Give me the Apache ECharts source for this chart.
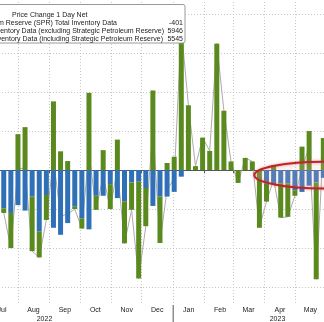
<!DOCTYPE html>
<html><head><meta charset="utf-8">
<script src="https://cdn.jsdelivr.net/npm/echarts@6/dist/echarts.min.js"></script>
<style>html,body{margin:0;padding:0;background:#fff;overflow:hidden}
#wrap{position:relative;width:324px;height:322px;overflow:hidden}
#c{position:absolute;left:-16px;top:-25px;width:354px;height:347px}</style>
</head><body><div id="wrap"><div id="c"></div></div>
<script>
// Weekly plot dates (as placed on the chart)
const weeks = ['2022-07-18','2022-07-25','2022-08-01','2022-08-08','2022-08-15','2022-08-22','2022-08-29',
  '2022-09-05','2022-09-12','2022-09-19','2022-09-26','2022-10-03','2022-10-10','2022-10-17','2022-10-24',
  '2022-10-31','2022-11-07','2022-11-14','2022-11-21','2022-11-28','2022-12-05','2022-12-12','2022-12-19',
  '2022-12-26','2023-01-02','2023-01-09','2023-01-16','2023-01-23','2023-01-30','2023-02-06','2023-02-13',
  '2023-02-20','2023-02-27','2023-03-06','2023-03-13','2023-03-20','2023-03-27','2023-04-03','2023-04-10',
  '2023-04-17','2023-04-24','2023-05-01','2023-05-08','2023-05-15','2023-05-22','2023-05-29'];
// SPR weekly change (thousand barrels) - blue
const sprChange = [-4900,-5500,-4500,-5200,-3400,-7900,-3200,
  -7400,-8300,-6800,-4700,-6200,-7600,-3300,-3300,
  -1800,-3600,-4000,-1600,-1500,-2300,-4600,-3400,
  -3400,-2800,-850,0,0,0,0,0,
  0,0,0,0,0,0,-1700,-1800,
  -1700,-1700,-2600,-2800,-2000,-1600,-1000];
// Commercial (ex-SPR) weekly change - green
const commercialChange = [-600,-4500,4600,5500,-7000,-3300,-3200,
  8800,2400,1150,-300,-1300,9900,-1800,2550,
  -3200,3900,-5400,-3500,-12400,-4900,10200,-5950,
  900,1700,19000,8300,500,4150,2450,16200,
  7600,1100,-1650,1550,1100,-7400,-2350,600,
  -4400,-4300,-700,3000,5000,-12400,4100];
// Total (including SPR) weekly change - grey line
const totalChange = [-5500,-10000,100,300,-10400,-11200,-6400,
  1400,-5900,-5650,-5000,-7500,2300,-5100,-750,
  -5000,300,-9400,-5100,-13900,-7200,5600,-9350,
  -2500,-1100,18150,8300,500,4150,2450,16200,
  7600,1100,-1650,1550,1100,-7400,-4050,-1200,
  -6100,-6000,-3300,200,3000,-14000,3100];
const monthNames = ['Jan','Feb','Mar','Apr','May','Jun','Jul','Aug','Sep','Oct','Nov','Dec'];
const yearLabels = ['2022','2023'];
const gridValues = [-15000,-10000,-5000,0,5000,10000,15000,20000];
const legendTitle = 'Price Change 1 Day Net';
const legendNames = ['Strategic Petroleum Reserve (SPR) Total Inventory Data',
  'Inventory Data (excluding Strategic Petroleum Reserve)',
  'Inventory Data (including Strategic Petroleum Reserve)'];
const legendValues = ['-401','5946','5545'];

const FONT = '"Liberation Sans", Arial, sans-serif';
const DAY = 86400000;
const GRID_COLOR = '#c6c6c6';
// chart container is offset from the page by (-16, -25) and is 354 x 347
const OX = 16, OY = 25, CW = 354, CH = 347;
const chart = echarts.init(document.getElementById('c'), null, { width: CW, height: CH });
chart.setOption({
  animation: false,
  backgroundColor: '#ffffff',
  textStyle: { fontFamily: FONT },
  grid: { left: 0, right: 0, top: 0, bottom: 17, containLabel: false, outerBoundsMode: 'none' },
  xAxis: {
    type: 'time',
    min: +new Date(2022, 6, 1),
    max: +new Date(2023, 5, 10),
    minInterval: 28 * DAY,
    maxInterval: 31 * DAY,
    axisLine: { show: true, lineStyle: { color: '#555', width: 1 } },
    axisTick: { show: true, length: 3, lineStyle: { color: '#555' } },
    splitLine: { show: true, lineStyle: { color: GRID_COLOR, type: [1, 2], width: 1 } },
    axisLabel: {
      formatter: v => monthNames[new Date(v).getMonth()],
      fontSize: 7, color: '#222', fontFamily: FONT, margin: 2,
      align: 'center', padding: [0, 0, 0, 31]
    }
  },
  yAxis: {
    type: 'value', min: -17300, max: 25000,
    axisLine: { show: false }, axisTick: { show: false },
    axisLabel: { show: false }, splitLine: { show: false }
  },
  series: [
    {
      type: 'line', name: 'Total Inventory (incl. SPR)',
      data: weeks.map((w, i) => [w, totalChange[i]]),
      symbol: 'none', lineStyle: { color: '#ababab', width: 1 }, z: 1,
      markLine: {
        silent: true, symbol: ['none', 'none'], label: { show: false }, z: 0,
        lineStyle: { color: GRID_COLOR, type: [1, 2], width: 1 },
        emphasis: { disabled: true },
        data: gridValues.map(v => ({ yAxis: v }))
      }
    },
    {
      type: 'bar', name: 'SPR', stack: 'inv',
      data: weeks.map((w, i) => [w, sprChange[i]]),
      barWidth: 5, itemStyle: { color: '#3070b6' }, z: 3
    },
    {
      type: 'bar', name: 'Commercial', stack: 'inv',
      data: weeks.map((w, i) => [w, commercialChange[i]]),
      barWidth: 5, itemStyle: { color: '#5a8a1d' }, z: 3
    }
  ]
});

const sepX = chart.convertToPixel({ xAxisIndex: 0 }, +new Date(2023, 0, 1));
const ell = chart.convertToPixel({ gridIndex: 0 }, [+new Date(2023, 4, 29), -650]);
const txt = (t, x, y, align) => ({
  type: 'text', x: x + OX, y: y + OY, z: 110,
  style: { text: t, fontSize: 7, fontFamily: FONT, fill: '#222', align: align, verticalAlign: 'middle' }
});
chart.setOption({
  graphic: [
    { type: 'ellipse', z: 50, shape: { cx: ell[0], cy: ell[1], rx: 69, ry: 13.3 },
      style: { fill: 'rgba(255,255,255,0.12)', stroke: '#b8252b', lineWidth: 2,
               shadowBlur: 3, shadowColor: 'rgba(210,70,70,0.6)' } },
    { type: 'line', z: 60, shape: { x1: sepX, y1: 305 + OY, x2: sepX, y2: 322 + OY },
      style: { stroke: '#555', lineWidth: 1 } },
    txt(yearLabels[0], 44.5, 319, 'center'),
    txt(yearLabels[1], 277.5, 319, 'center'),
    { type: 'rect', z: 100, shape: { x: -10 + OX, y: 4.5 + OY, width: 195, height: 38.5, r: 2 },
      style: { fill: '#ffffff', stroke: '#9a9a9a', lineWidth: 1 } },
    txt(legendTitle, 12, 15, 'left'),
    txt(legendNames[0], 117, 23.5, 'right'),
    txt(legendNames[1], 164, 31.5, 'right'),
    txt(legendNames[2], 163, 39, 'right'),
    txt(legendValues[0], 183, 23.5, 'right'),
    txt(legendValues[1], 183, 31.5, 'right'),
    txt(legendValues[2], 183, 39, 'right')
  ]
});
</script>
</body></html>
